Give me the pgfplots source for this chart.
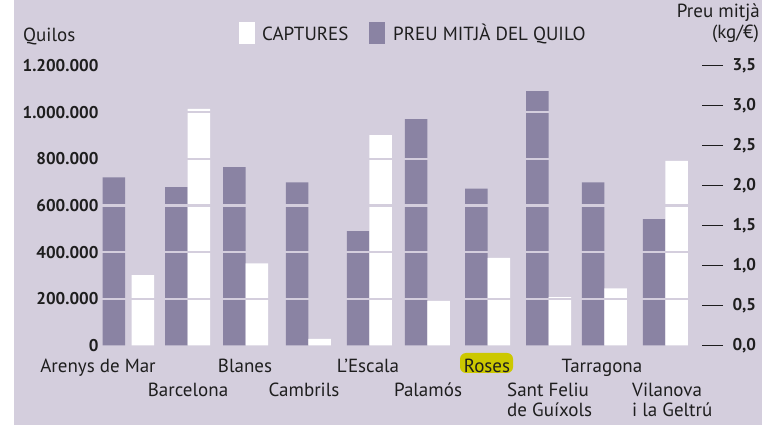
\documentclass[border=0pt]{standalone}
\usepackage{pgfplots}
\pgfplotsset{compat=1.18}
\usepackage{fontspec}
\setmainfont{PT Sans}
\definecolor{bg}{HTML}{D4CEDD}
\definecolor{pur}{HTML}{8A83A3}
\definecolor{hl}{HTML}{CCC800}
\definecolor{txt}{HTML}{1E1E1E}
\begin{document}
\begin{tikzpicture}[x=1pt,y=1pt]
\fill[white] (0,0) rectangle (762,425);
\fill[bg] (14,0) rectangle (762,425);
\pgfplotsset{base/.style={
  at={(100pt,79.5pt)}, anchor=south west, scale only axis,
  width=602pt, height=280pt, xmin=-0.416, xmax=9.601, ymin=0,
  clip=false, xtick=\empty, ybar, bar width=22.5pt,
  x axis line style={draw=none}, y axis line style={draw=none},
  tick label style={font=\bfseries\fontsize{17}{17}\selectfont, text=txt},
  /pgf/number format/assume math mode=true}}
% right axis: price
\begin{axis}[base, ymax=3.5, axis y line*=right, axis x line=none,
  ytick={0,0.5,1,1.5,2,2.5,3,3.5},
  yticklabel style={/pgf/number format/fixed, /pgf/number format/fixed zerofill, /pgf/number format/precision=1, /pgf/number format/use comma, anchor=west, xshift=6pt},
  tick align=outside, major tick length=21pt,
  ytick style={draw=txt, line width=1.1pt}]
\addplot[fill=pur, draw=none, bar shift=-11.25pt] coordinates {
 (0,2.10) (1.04,1.98) (2.005,2.23) (3.053,2.04) (4.068,1.43) (5.033,2.83) (6.032,1.96) (7.047,3.18) (7.978,2.04) (8.993,1.58)};
\end{axis}
% left axis: quilos
\begin{axis}[base, ymax=1200000, axis y line*=left, axis x line=none,
  ytick={0,200000,400000,600000,800000,1000000,1200000},
  scaled y ticks=false,
  yticklabel style={/pgf/number format/fixed, /pgf/number format/1000 sep={.}, anchor=east, xshift=2pt},
  major tick length=0pt]
\addplot[fill=white, draw=none, bar shift=11.25pt] coordinates {
 (0.112,302000) (1.04,1014000) (2.005,352000) (3.053,28000) (4.068,902000) (5.033,191000) (6.032,376000) (7.047,207000) (7.978,245000) (8.993,791000)};
\pgfplotsinvokeforeach{200000,400000,600000,800000,1000000}{
  \draw[bg, line width=2.5pt] (axis cs:-0.42,#1) -- (axis cs:9.6,#1);}
\end{axis}
% titles and legend
\begin{scope}[every node/.style={inner sep=0pt, text=txt, font=\fontsize{19}{19}\selectfont}]
\node[anchor=base west] at (23,383) {Quilos};
\node[anchor=base east] at (760,407) {Preu mitjà};
\node[anchor=base east] at (759,386) {(kg/€)};
\fill[white] (239,381) rectangle (255,403);
\node[anchor=base west] at (262,384) {CAPTURES};
\fill[pur] (369,381) rectangle (385,403);
\node[anchor=base west] at (393,384) {PREU MITJÀ DEL QUILO};
% category labels
\node[anchor=base] at (98,52) {Arenys de Mar};
\node[anchor=base] at (188,28) {Barcelona};
\node[anchor=base] at (245,52) {Blanes};
\node[anchor=base] at (304,28) {Cambrils};
\node[anchor=base] at (368,52) {L’Escala};
\node[anchor=base] at (428,28) {Palamós};
\fill[hl, rounded corners=6pt] (460,52) rectangle (513,72);
\node[anchor=base] at (487,52) {Roses};
\node[anchor=base west] at (507,28) {Sant Feliu};
\node[anchor=base west] at (507,8.3) {de Guíxols};
\node[anchor=base] at (602,52) {Tarragona};
\node[anchor=base west] at (632,28) {Vilanova};
\node[anchor=base west] at (632,8.3) {i la Geltrú};
\end{scope}
\end{tikzpicture}
\end{document}
